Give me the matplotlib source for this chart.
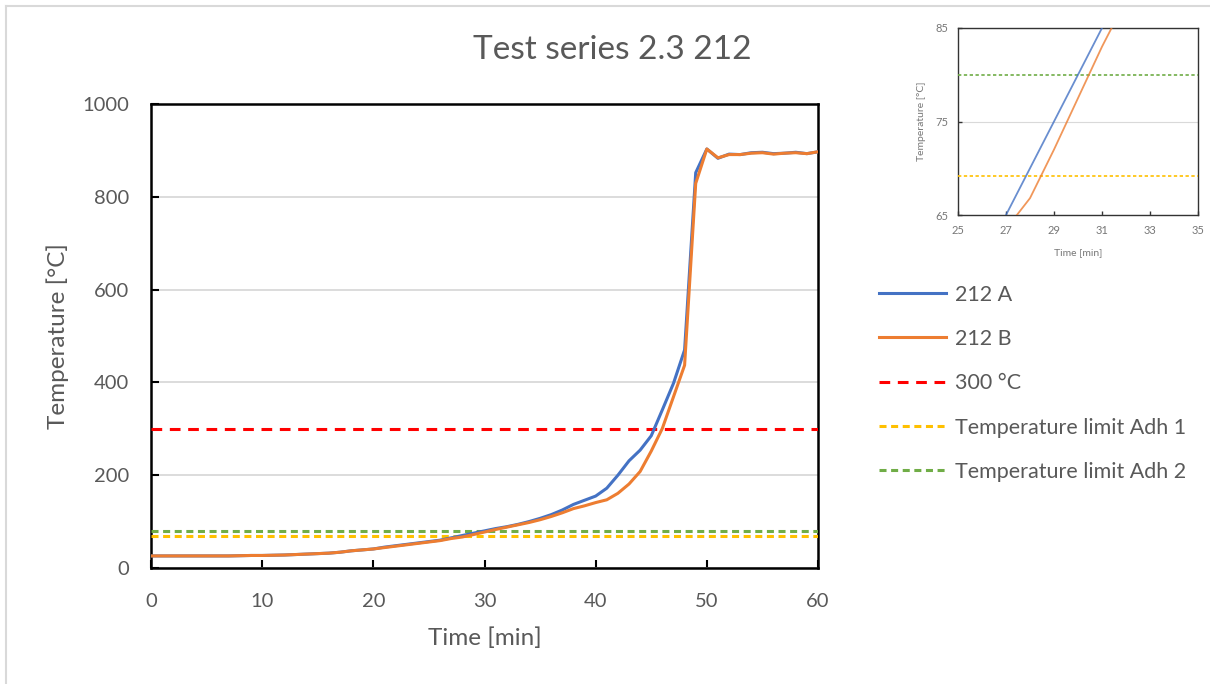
import matplotlib
matplotlib.use("Agg")
import matplotlib.pyplot as plt
from matplotlib.lines import Line2D

# ---- data ----
time_min = list(range(0, 61))
temp_212A = [26, 26, 26, 26, 26, 26, 26, 26, 26.5, 27, 27,
             27.5, 28, 29, 30, 31, 32, 34, 37, 39, 41,
             45, 48, 51, 54, 57, 60, 65, 70, 75, 80,
             85, 89, 94, 100, 107, 115, 125, 137, 146, 155,
             172, 200, 231, 254, 285, 341, 398, 470, 852, 903,
             883, 892, 891, 895, 896, 893, 894, 896, 893, 897]
temp_212B = [26, 26, 26, 26, 26, 26, 26, 26, 26.5, 27, 27,
             27.5, 28, 29, 30, 31, 32, 34, 37, 39, 41,
             44, 47, 50, 53, 56, 59, 63.5, 66.8, 72, 77.5,
             83, 88, 93, 98, 104, 111, 119, 128, 134, 141,
             147, 161, 181, 208, 252, 301, 369, 437, 829, 903,
             884, 891, 891, 894, 895, 892, 894, 895, 893, 897]
ref_300 = 300
limit_adh1 = 69.2
limit_adh2 = 80

title = "Test series 2.3 212"
labels = ["212 A", "212 B", "300 °C", "Temperature limit Adh 1", "Temperature limit Adh 2"]
x_ticks = [0, 10, 20, 30, 40, 50, 60]
y_ticks = [0, 200, 400, 600, 800, 1000]
inset_x_ticks = [25, 27, 29, 31, 33, 35]
inset_y_ticks = [65, 75, 85]

# ---- style ----
plt.rcParams['font.family'] = ['Lato', 'DejaVu Sans']
txt = '#595959'
c_blue = '#4472C4'
c_orange = '#ED7D31'
c_red = '#FF0000'
c_yellow = '#FFC000'
c_green = '#70AD47'

fig = plt.figure(figsize=(12.1, 6.84), dpi=100)

# figure border (chart area)
fig.add_artist(Line2D([6/1210, 6/1210], [0, 1 - 6/684], color='#d9d9d9', lw=1.5))
fig.add_artist(Line2D([6/1210, 1], [1 - 6/684, 1 - 6/684], color='#d9d9d9', lw=1.5))

ax = fig.add_axes([151/1210, 1 - 568/684, 667/1210, 464/684])
ax.plot(time_min, temp_212A, color=c_blue, lw=2.2, label=labels[0], zorder=4)
ax.plot(time_min, temp_212B, color=c_orange, lw=2.2, label=labels[1], zorder=5)
ax.axhline(ref_300, color=c_red, lw=2.2, ls=(0, (3.5, 2.5)), label=labels[2], zorder=3)
ax.axhline(limit_adh1, color=c_yellow, lw=2.2, ls=(0, (2.3, 1.5)), label=labels[3], zorder=3)
ax.axhline(limit_adh2, color=c_green, lw=2.2, ls=(0, (2.3, 1.5)), label=labels[4], zorder=3)

ax.set_xlim(0, 60)
ax.set_ylim(0, 1000)
ax.set_xticks(x_ticks)
ax.set_yticks(y_ticks)
ax.grid(axis='y', color='#d9d9d9', lw=1.3, zorder=0)
ax.set_axisbelow(True)
for s in ax.spines.values():
    s.set_color('black')
    s.set_linewidth(1.8)
ax.tick_params(direction='in', length=6, width=1.5, colors='black', labelcolor=txt,
               labelsize=14.5)
ax.tick_params(axis='x', pad=18)
ax.tick_params(axis='y', pad=16)
ax.set_xlabel("Time [min]", fontsize=17.5, color=txt, va='center')
ax.set_ylabel("Temperature [°C]", fontsize=17.5, color=txt, va='center')
ax.xaxis.set_label_coords(0.5, (568 - 638) / 464)
ax.yaxis.set_label_coords((58 - 151) / 667, 0.5)
fig.text(612/1210, 1 - 50/684, title, ha='center', va='center', fontsize=24, color=txt)

leg = ax.legend(loc='upper left', bbox_to_anchor=(870/1210, 1 - 276/684),
                bbox_transform=fig.transFigure, frameon=False, fontsize=15.5,
                labelcolor=txt, handlelength=3.15, handletextpad=0.4,
                labelspacing=1.13, borderaxespad=0)

# ---- inset ----
ins = fig.add_axes([958/1210, 1 - 215/684, 240/1210, 187/684])
ins.plot(time_min, temp_212A, color=c_blue, lw=1.3, alpha=0.8, zorder=4)
ins.plot(time_min, temp_212B, color=c_orange, lw=1.3, alpha=0.8, zorder=5)
ins.axhline(limit_adh1, color=c_yellow, lw=1.2, ls=(0, (2, 1.5)), zorder=3)
ins.axhline(limit_adh2, color=c_green, lw=1.2, ls=(0, (2, 1.5)), zorder=3)
ins.set_xlim(25, 35)
ins.set_ylim(65, 85)
ins.set_xticks(inset_x_ticks)
ins.set_yticks(inset_y_ticks)
ins.grid(axis='y', color='#d9d9d9', lw=0.8, zorder=0)
ins.set_axisbelow(True)
for s in ins.spines.values():
    s.set_color('#333333')
    s.set_linewidth(1.0)
ins.tick_params(direction='in', length=3, width=1, colors='#333333', labelcolor='#777777',
                labelsize=8, pad=7)
ins.set_xlabel("Time [min]", fontsize=7.5, color='#777777', va='center')
ins.set_ylabel("Temperature [°C]", fontsize=7.5, color='#777777', va='center')
ins.xaxis.set_label_coords(0.5, (215 - 253) / 187)
ins.yaxis.set_label_coords((922 - 958) / 240, 0.5)

fig.savefig("out.png", dpi=100, facecolor='white')
